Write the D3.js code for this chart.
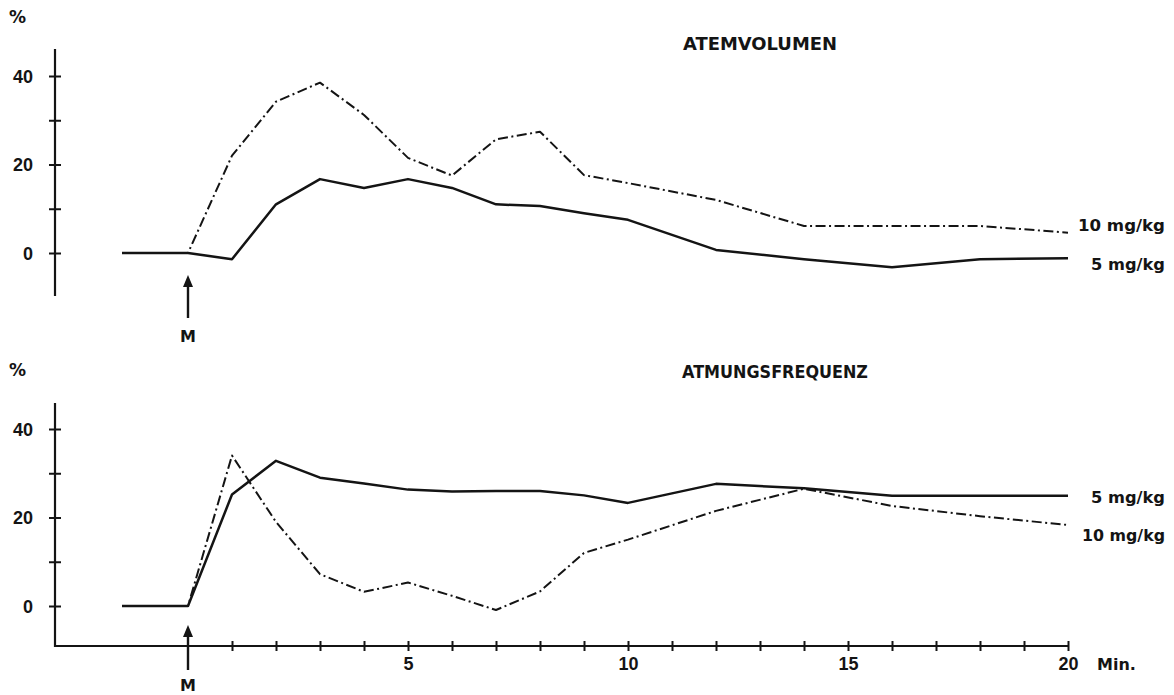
<!DOCTYPE html>
<html>
<head>
<meta charset="utf-8">
<script src="https://cdn.jsdelivr.net/npm/d3@7"></script>
<style>
  html, body { margin: 0; padding: 0; background: #fff; }
  svg { display: block; font-family: "DejaVu Sans", sans-serif; }
</style>
</head>
<body>
<svg id="chart" width="1174" height="695"></svg>
<script>
// ── Data ──
const minutes    = [-1.5, 0, 1, 2, 3, 4, 5, 6, 7, 8, 9, 10, 12, 14, 16, 18, 20];
const volumen5   = [0, 0, -1.4, 11, 16.7, 14.7, 16.7, 14.7, 11, 10.6, 9, 7.5, 0.7, -1.4, -3.2, -1.4, -1.2];
const volumen10  = [0, 0, 22, 34.2, 38.5, 31.2, 21.5, 17.5, 25.7, 27.4, 17.6, 15.8, 12, 6.1, 6.1, 6.1, 4.6];
const frequenz5  = [0, 0, 25.2, 32.8, 29, 27.7, 26.3, 25.9, 26, 26, 25, 23.3, 27.6, 26.6, 24.9, 24.9, 24.9];
const frequenz10 = [0, 0, 34, 19, 7.2, 3.2, 5.3, 2.3, -0.9, 3.3, 12, 15, 21.5, 26.5, 22.6, 20.3, 18.3];
const yTicks = [0, 10, 20, 30, 40];
const yTickLabels = [0, 20, 40];
const xTicks = [1, 2, 3, 4, 5, 6, 7, 8, 9, 10, 11, 12, 13, 14, 15, 16, 17, 18, 19, 20];
const xTickLabels = [5, 10, 15, 20];

const INK = "#141414";
const DASHDOT = "10,3.5,2,3.5";

const svg = d3.select("#chart");
const x = d3.scaleLinear().domain([0, 20]).range([188, 1068]);
const AXIS_X = 55;

// ── one panel: y axis, two curves, title, right labels, M arrow ──
function drawPanel({ y, axisTop, axisBottom, title, titleX, titleY, titleW, solid, dashed, labels, arrow }) {
  const g = svg.append("g");

  // y axis line (extends beyond the scale range)
  g.append("line")
    .attr("x1", AXIS_X).attr("x2", AXIS_X)
    .attr("y1", axisTop).attr("y2", axisBottom)
    .attr("stroke", INK).attr("stroke-width", 2.2);

  const ax = g.append("g").attr("transform", `translate(${AXIS_X},0)`)
    .call(d3.axisLeft(y).tickValues(yTicks).tickSize(6)
      .tickFormat(d => yTickLabels.includes(d) ? d : ""));
  ax.select(".domain").remove();
  ax.selectAll(".tick line").attr("x1", -6).attr("x2", 6)
    .attr("stroke", INK).attr("stroke-width", 2);
  ax.selectAll(".tick text")
    .attr("x", -22).attr("dy", "0.36em")
    .style("font-size", "18px").style("font-weight", "bold").attr("fill", INK);

  // "%" unit
  g.append("text").attr("x", 9).attr("y", y(40) - 53)
    .style("font-size", "17px").style("font-weight", "bold").attr("fill", INK)
    .text("%");

  const line = d3.line().x((d, i) => x(minutes[i])).y(d => y(d));

  g.append("path").datum(dashed).attr("d", line)
    .attr("fill", "none").attr("stroke", INK).attr("stroke-width", 2)
    .attr("stroke-dasharray", DASHDOT).attr("stroke-linejoin", "round");
  g.append("path").datum(solid).attr("d", line)
    .attr("fill", "none").attr("stroke", INK).attr("stroke-width", 2.5)
    .attr("stroke-linejoin", "round");

  // title
  g.append("text").attr("x", titleX).attr("y", titleY)
    .attr("textLength", titleW).attr("lengthAdjust", "spacingAndGlyphs")
    .style("font-size", "17px").style("font-weight", "bold").attr("fill", INK)
    .text(title);

  // right-hand labels
  labels.forEach(l => {
    g.append("text").attr("x", 1165).attr("y", l.y).attr("dy", "0.36em")
      .attr("text-anchor", "end")
      .attr("textLength", l.w).attr("lengthAdjust", "spacingAndGlyphs")
      .style("font-size", "16px").style("font-weight", "bold").attr("fill", INK)
      .text(l.text);
  });

  // M arrow
  const ax0 = x(0);
  g.append("line").attr("x1", ax0).attr("x2", ax0)
    .attr("y1", arrow.tip + 8).attr("y2", arrow.bottom)
    .attr("stroke", INK).attr("stroke-width", 2.4);
  g.append("path")
    .attr("d", `M${ax0},${arrow.tip} L${ax0 - 5},${arrow.tip + 12} L${ax0 + 5},${arrow.tip + 12} Z`)
    .attr("fill", INK);
  g.append("text").attr("x", ax0).attr("y", arrow.label).attr("dy", "0.36em")
    .attr("text-anchor", "middle")
    .style("font-size", "16px").style("font-weight", "bold").attr("fill", INK)
    .text("M");
}

const yTop = d3.scaleLinear().domain([0, 40]).range([253, 76]);
const yBot = d3.scaleLinear().domain([0, 40]).range([606, 429]);

drawPanel({
  y: yTop, axisTop: 49, axisBottom: 296,
  title: "ATEMVOLUMEN", titleX: 683, titleY: 50, titleW: 154,
  solid: volumen5, dashed: volumen10,
  labels: [{ text: "10 mg/kg", y: 225, w: 87 }, { text: "5 mg/kg", y: 264, w: 74 }],
  arrow: { tip: 275, bottom: 318, label: 336 }
});

drawPanel({
  y: yBot, axisTop: 403, axisBottom: 647,
  title: "ATMUNGSFREQUENZ", titleX: 682, titleY: 378, titleW: 186,
  solid: frequenz5, dashed: frequenz10,
  labels: [{ text: "5 mg/kg", y: 497, w: 74 }, { text: "10 mg/kg", y: 535, w: 83 }],
  arrow: { tip: 625, bottom: 670, label: 685 }
});

// ── shared time axis at the bottom ──
const AXIS_Y = 646;
const xg = svg.append("g");
xg.append("line").attr("x1", AXIS_X).attr("x2", x(20))
  .attr("y1", AXIS_Y).attr("y2", AXIS_Y)
  .attr("stroke", INK).attr("stroke-width", 2);
const xa = xg.append("g").attr("transform", `translate(0,${AXIS_Y})`)
  .call(d3.axisBottom(x).tickValues(xTicks).tickSize(5)
    .tickFormat(d => xTickLabels.includes(d) ? d : ""));
xa.select(".domain").remove();
xa.selectAll(".tick line").attr("y1", -5).attr("y2", 5)
  .attr("stroke", INK).attr("stroke-width", 2);
xa.selectAll(".tick text").attr("y", 18).attr("dy", "0.36em")
  .style("font-size", "18px").style("font-weight", "bold").attr("fill", INK);
xg.append("text").attr("x", 1097).attr("y", 664).attr("dy", "0.36em")
  .style("font-size", "16px").style("font-weight", "bold").attr("fill", INK)
  .text("Min.");
</script>
</body>
</html>
